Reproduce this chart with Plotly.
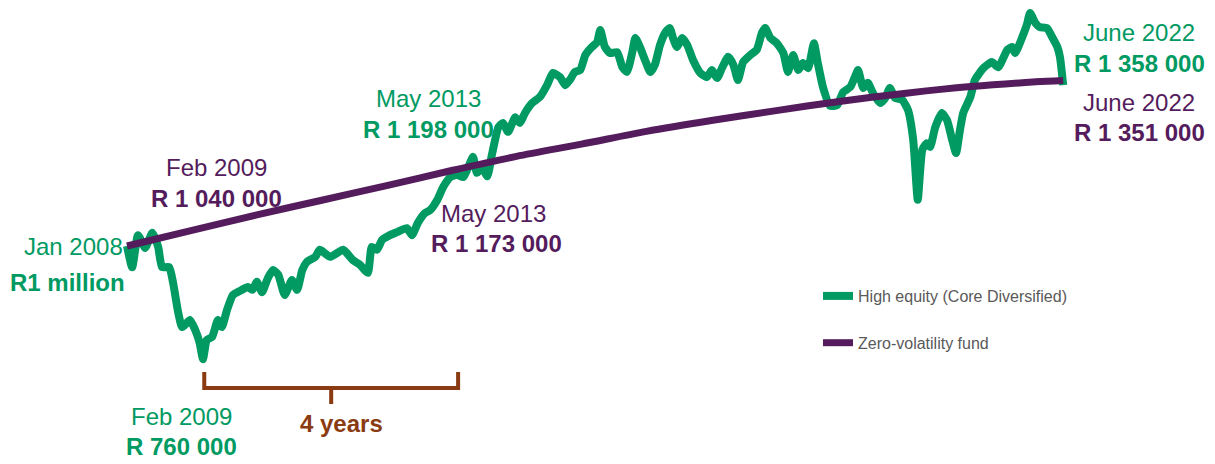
import plotly.graph_objects as go

# ---- data (decimal years, values in R thousands) ----
green_t = [2008.00, 2008.08, 2008.17, 2008.28, 2008.39, 2008.48, 2008.54, 2008.65, 2008.71, 2008.79,
           2008.85, 2008.97, 2009.05, 2009.12, 2009.17, 2009.23, 2009.31, 2009.40, 2009.46, 2009.54,
           2009.63, 2009.77, 2009.86, 2009.93, 2010.00, 2010.08, 2010.17, 2010.25, 2010.33, 2010.43,
           2010.54, 2010.62, 2010.70, 2010.77, 2010.90, 2010.97, 2011.13, 2011.33, 2011.48, 2011.59,
           2011.71, 2011.77, 2011.85, 2011.93, 2012.05, 2012.17, 2012.31, 2012.39, 2012.48, 2012.59,
           2012.67, 2012.78, 2012.87, 2012.98, 2013.08, 2013.18, 2013.25, 2013.33, 2013.39, 2013.47,
           2013.55, 2013.62, 2013.72, 2013.79, 2013.87, 2013.98, 2014.05, 2014.13, 2014.24, 2014.36,
           2014.47, 2014.56, 2014.67, 2014.75, 2014.82, 2014.90, 2014.98, 2015.06, 2015.16, 2015.24,
           2015.29, 2015.36, 2015.44, 2015.55, 2015.63, 2015.70, 2015.78, 2015.83, 2015.90, 2015.98,
           2016.06, 2016.13, 2016.21, 2016.29, 2016.36, 2016.41, 2016.47, 2016.55, 2016.63, 2016.72,
           2016.83, 2016.93, 2017.01, 2017.09, 2017.17, 2017.26, 2017.34, 2017.41, 2017.49, 2017.60,
           2017.70, 2017.78, 2017.83, 2017.91, 2018.01, 2018.11, 2018.18, 2018.26, 2018.34, 2018.41,
           2018.49, 2018.58, 2018.64, 2018.72, 2018.83, 2018.94, 2019.03, 2019.14, 2019.21, 2019.26,
           2019.34, 2019.41, 2019.49, 2019.60, 2019.68, 2019.75, 2019.83, 2019.94, 2020.03, 2020.11,
           2020.18, 2020.25, 2020.32, 2020.37, 2020.45, 2020.55, 2020.63, 2020.71, 2020.77, 2020.83,
           2020.88, 2020.99, 2021.06, 2021.19, 2021.32, 2021.42, 2021.56, 2021.63, 2021.68, 2021.79,
           2021.86, 2021.91, 2021.99, 2022.06, 2022.17, 2022.25, 2022.33, 2022.37, 2022.42]
green_v = [1000, 955, 1023, 996, 1028, 998, 955, 955, 922, 858,
           828, 843, 822, 794, 760, 801, 807, 843, 828, 864,
           896, 907, 913, 907, 924, 902, 932, 949, 939, 896,
           928, 907, 949, 966, 977, 992, 977, 992, 970, 960,
           943, 998, 992, 1013, 1023, 1030, 1038, 1023, 1049, 1070,
           1076, 1098, 1125, 1146, 1151, 1146, 1165, 1189, 1155, 1165,
           1148, 1193, 1252, 1261, 1242, 1273, 1261, 1282, 1303, 1316,
           1341, 1367, 1358, 1341, 1352, 1369, 1373, 1405, 1422, 1432,
           1458, 1422, 1409, 1411, 1379, 1369, 1409, 1441, 1422, 1394,
           1369, 1384, 1426, 1452, 1462, 1441, 1422, 1441, 1426, 1394,
           1367, 1358, 1373, 1356, 1379, 1401, 1384, 1352, 1390, 1405,
           1416, 1452, 1462, 1441, 1430, 1409, 1369, 1405, 1373, 1388,
           1377, 1430, 1388, 1337, 1297, 1299, 1326, 1337, 1358, 1373,
           1335, 1346, 1324, 1303, 1314, 1335, 1314, 1310, 1288, 1225,
           1098, 1204, 1218, 1210, 1252, 1282, 1267, 1225, 1197, 1246,
           1282, 1316, 1352, 1377, 1390, 1379, 1416, 1422, 1409, 1443,
           1469, 1494, 1473, 1464, 1462, 1443, 1422, 1401, 1341]

purple_t = [2008.0, 2009.0, 2010.0, 2011.0, 2012.0, 2013.0, 2014.0, 2015.0,
            2016.0, 2017.0, 2018.0, 2019.0, 2020.0, 2021.0, 2022.0, 2022.42]
purple_v = [1000, 1033, 1066, 1097, 1128, 1160, 1190, 1216,
            1243, 1266, 1287, 1307, 1324, 1338, 1348, 1351]

series_names = ["High equity (Core Diversified)", "Zero-volatility fund"]

# bracket span ("4 years") in decimal years and its levels (R thousands)
bracket_start, bracket_end = 2009.19, 2013.10
bracket_top, bracket_bar, bracket_tip = 733, 699, 665

GREEN = "#009A62"
PURPLE = "#541C5C"
BROWN = "#8A3B12"
FONT = "Liberation Sans, Arial, sans-serif"

fig = go.Figure()
fig.add_trace(go.Scatter(x=green_t, y=green_v, mode="lines", name=series_names[0],
                         line=dict(color=GREEN, width=8, shape="spline", smoothing=0.5),
                         legendgroup="g", hoverinfo="skip"))
fig.add_trace(go.Scatter(x=purple_t, y=purple_v, mode="lines", name=series_names[1],
                         line=dict(color=PURPLE, width=7, shape="spline", smoothing=0.8),
                         legendgroup="p", hoverinfo="skip"))

mid = (bracket_start + bracket_end) / 2
fig.add_shape(type="path", xref="x", yref="y",
              path=(f"M {bracket_start},{bracket_top} L {bracket_start},{bracket_bar} "
                    f"L {bracket_end},{bracket_bar} L {bracket_end},{bracket_top} "
                    f"M {mid},{bracket_bar} L {mid},{bracket_tip}"),
              line=dict(color=BROWN, width=4))

labels = [
    ("Jan 2008", 0.0184, 0.4759, GREEN, False, "right"),
    ("R1 million", 0.0205, 0.3991, GREEN, True, "right"),
    ("Feb 2009", 0.1127, 0.6513, PURPLE, False, "center"),
    ("R 1 040 000", 0.1127, 0.5833, PURPLE, True, "center"),
    ("May 2013", 0.3299, 0.8026, GREEN, False, "center"),
    ("R 1 198 000", 0.3299, 0.7346, GREEN, True, "center"),
    ("May 2013", 0.3965, 0.5504, PURPLE, False, "center"),
    ("R 1 173 000", 0.3986, 0.4825, PURPLE, True, "center"),
    ("June 2022", 1.0574, 0.9452, GREEN, False, "center"),
    ("R 1 358 000", 1.0584, 0.8772, GREEN, True, "center"),
    ("June 2022", 1.0574, 0.7917, PURPLE, False, "center"),
    ("R 1 351 000", 1.0584, 0.7259, PURPLE, True, "center"),
    ("Feb 2009", 0.0768, 0.1031, GREEN, False, "center"),
    ("R 760 000", 0.0768, 0.0373, GREEN, True, "center"),
    ("4 years", 0.2398, 0.0899, BROWN, True, "center"),
]
for txt, x, y, col, bold, xa in labels:
    fig.add_annotation(text=f"<b>{txt}</b>" if bold else txt, x=x, y=y,
                       xref="paper", yref="paper", showarrow=False,
                       xanchor=xa, yanchor="middle",
                       font=dict(family=FONT, size=24, color=col))

# the page body adds an 8 px offset, so the figure is sized 8 px smaller
fig.update_layout(
    width=1207, height=456,
    margin=dict(l=99, r=132, t=0, b=0),
    paper_bgcolor="white", plot_bgcolor="white",
    xaxis=dict(visible=False, range=[2007.692, 2022.725]),
    yaxis=dict(visible=False, range=[537.8, 1504.6]),
    showlegend=True,
    legend=dict(x=0.7285, y=0.4057, xanchor="left", yanchor="top",
                font=dict(family=FONT, size=16, color="#595959"),
                tracegroupgap=23, itemwidth=30, bgcolor="rgba(0,0,0,0)"),
)

fig.write_html("out.html", config={"displayModeBar": False})
